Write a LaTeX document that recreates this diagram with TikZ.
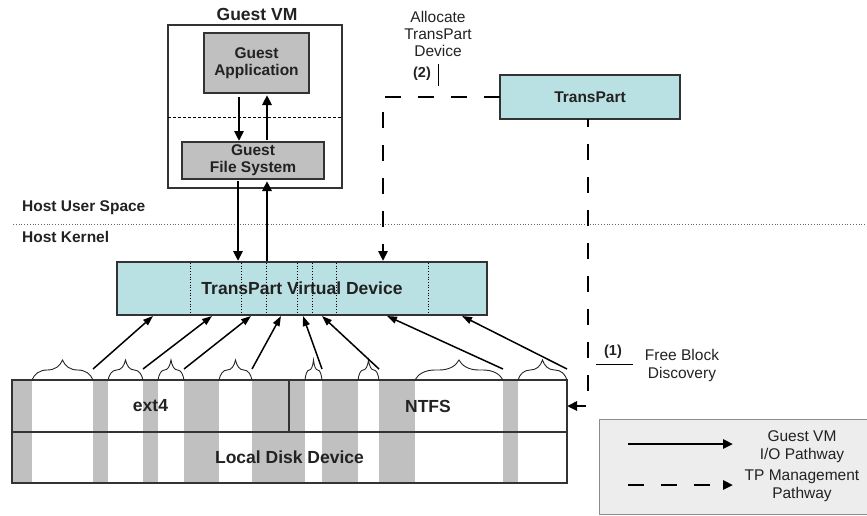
\documentclass[tikz,border=0pt]{standalone}
\usepackage{fontspec}
\setmainfont{Liberation Sans}
\usetikzlibrary{arrows.meta,decorations.pathreplacing}
\definecolor{tpblue}{RGB}{185,224,226}
\definecolor{stripe}{RGB}{192,192,192}
\definecolor{txt}{RGB}{34,34,34}
\definecolor{legfill}{RGB}{237,237,237}
\tikzset{
  lbl/.style={font=\fontsize{15.5}{17}\selectfont, text=txt, align=center, inner sep=0pt},
  blbl/.style={lbl, font=\fontsize{15.5}{17}\selectfont\bfseries},
  biglbl/.style={lbl, font=\fontsize{17.5}{19}\selectfont\bfseries},
  box/.style={draw=black!80, line width=1.1pt, inner sep=0pt, outer sep=0pt, align=center, text=txt},
  graybox/.style={box, fill=stripe},
  bluebox/.style={box, fill=tpblue},
  ioarrow/.style={line width=2.9pt, -{Triangle[length=10pt,width=9pt]}},
  mgmt/.style={line width=2.9pt, dash pattern=on 16pt off 17pt, -{Triangle[length=10pt,width=9pt]}},
  blkarrow/.style={line width=1.5pt, -{Triangle[length=10pt,width=7pt]}},
  bracestyle/.style={draw=black!85, line width=0.9pt, decorate, decoration={brace, amplitude=20pt}},
}
\begin{document}
\begin{tikzpicture}[x=1pt,y=-1pt]
\useasboundingbox (0,0) rectangle (867,515);

% ---- disk stripes ----
\foreach \a/\b in {12/32, 93/108, 143/158, 184/219, 252/305, 322/358, 379/415, 503/518}
  \fill[stripe] (\a,380) rectangle (\b,483);

% ---- disk nodes ----
\node[box, minimum width=277pt, minimum height=52pt, font=\fontsize{17.5}{19}\selectfont\bfseries] (ext4) at (150.5,406) {ext4};
\node[box, minimum width=278pt, minimum height=52pt, font=\fontsize{17.5}{19}\selectfont\bfseries] (ntfs) at (428,406) {NTFS};
\node[box, minimum width=555pt, minimum height=51pt, font=\fontsize{17.5}{19}\selectfont\bfseries] (ldd) at (289.5,457.5) {Local Disk Device};

% ---- guest VM ----
\node[biglbl] (gvmlabel) at (257,14) {Guest VM};
\node[box, minimum width=174pt, minimum height=163pt] (gvm) at (255,106.5) {};
\draw[black, line width=0.7pt, dash pattern=on 3pt off 2pt] (gvm.west |- 0,117) -- (gvm.east |- 0,117);
\node[graybox, minimum width=105pt, minimum height=60pt, font=\fontsize{15.5}{17}\selectfont\bfseries] (ga) at (256.5,63) {Guest\\Application};
\node[graybox, minimum width=142pt, minimum height=37pt, font=\fontsize{15.5}{17}\selectfont\bfseries] (gfs) at (253,160.5) {Guest\\File System};

% ---- host labels ----
\node[blbl, anchor=west] (hus) at (22,208) {Host User Space};
\node[blbl, anchor=west] (hk) at (22,237) {Host Kernel};
\draw[black!60, line width=0.8pt, dotted] (13,224) -- (867,224);

% ---- TransPart virtual device ----
\node[bluebox, minimum width=370pt, minimum height=53pt, font=\fontsize{17.5}{19}\selectfont\bfseries] (tvd) at (302,288.5) {TransPart Virtual Device};
\foreach \x in {190,241,266,297,312,336,428}
  \draw[black, line width=0.7pt, dotted] (\x,263) -- (\x,314);

% ---- TransPart ----
\node[bluebox, minimum width=180pt, minimum height=44pt, font=\fontsize{15.5}{17}\selectfont\bfseries] (tp) at (590,97) {TransPart};

% ---- guest I/O arrows ----
\draw[ioarrow] (239,97) -- (239,141);
\draw[ioarrow] (267,140) -- (267,95);
\draw[ioarrow] (238,181) -- (238,261);
\draw[ioarrow] (267,261) -- (267,181);

% ---- management arrows ----
\coordinate (tvdin) at (383,261);
\draw[mgmt] (tp.west) -| (tvdin);
\draw[mgmt, dash phase=8pt] (tp.south -| 588,0) |- (ntfs.east);

% ---- labels for management ----
\node[lbl, font=\fontsize{15.5}{17}\selectfont] (alloc) at (438,34) {Allocate\\TransPart\\Device};
\node[blbl, font=\fontsize{14.5}{16}\selectfont\bfseries] (two) at (422,74) {(2)};
\draw[black, line width=0.9pt] (438,64) -- (438,86);
\node[blbl, font=\fontsize{14.5}{16}\selectfont\bfseries] (one) at (613,352) {(1)};
\draw[black, line width=0.9pt] (596,364) -- (633,364);
\node[lbl, font=\fontsize{15.5}{18}\selectfont] (fbd) at (682,365) {Free Block\\Discovery};

% ---- braces over free blocks and arrows to virtual device ----
\foreach \a/\b/\tx [count=\i] in {32/93/153, 108/143/212, 158/184/251, 219/252/281, 305/322/303, 358/379/322, 415/503/387, 518/567/462}{
  \draw[bracestyle] (\a,380) -- (\b,380);
  \coordinate (bs\i) at (\b,369);
  \coordinate (be\i) at (\tx,316);
  \draw[blkarrow] (bs\i) -- (be\i);
}

% ---- legend ----
\node[draw=black!45, line width=1pt, fill=legfill, minimum width=271pt, minimum height=95pt, inner sep=0pt] (legend) at (734.5,466.5) {};
\coordinate (l1s) at (628,444);
\coordinate (l1e) at (733,444);
\coordinate (l2s) at (628,485);
\coordinate (l2e) at (733,485);
\draw[ioarrow] (l1s) -- (l1e);
\draw[mgmt] (l2s) -- (l2e);
\node[lbl, font=\fontsize{15.5}{18}\selectfont] (leg1) at (802,447) {Guest VM\\I/O Pathway};
\node[lbl, font=\fontsize{15.5}{18}\selectfont] (leg2) at (802,486) {TP Management\\Pathway};
\end{tikzpicture}
\end{document}
